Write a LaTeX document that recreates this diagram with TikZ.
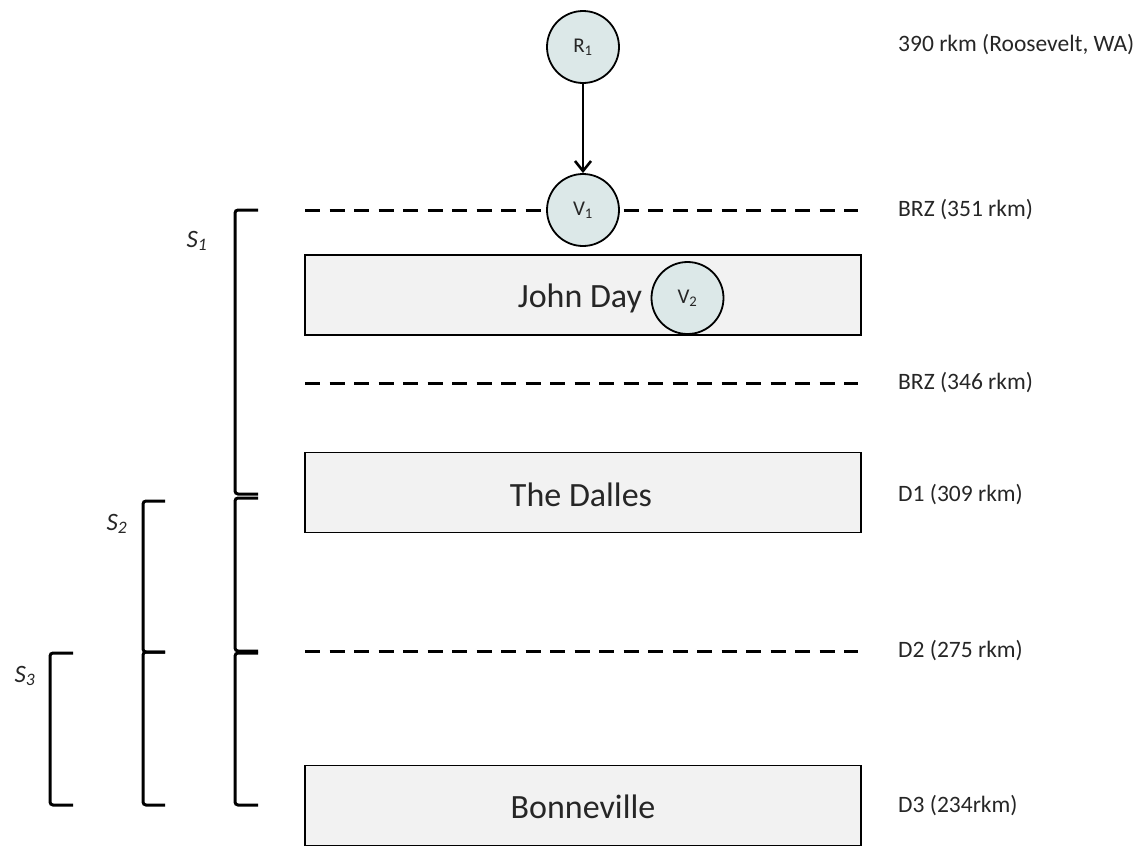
\documentclass[tikz,border=0pt]{standalone}
\usepackage{fontspec}
\setmainfont{Carlito}
\usetikzlibrary{arrows.meta}
\definecolor{circfill}{HTML}{DCE8E8}
\definecolor{boxfill}{HTML}{F2F2F2}
\definecolor{txt}{HTML}{262626}
\tikzset{
  station/.style={circle,draw=black,line width=1.8pt,fill=circfill,minimum size=72pt,inner sep=0pt,font=\fontsize{21}{21}\selectfont,text=txt},
  dam/.style={draw=black,line width=1.8pt,fill=boxfill,minimum width=556pt,minimum height=80pt,inner sep=0pt},
  damtext/.style={font=\fontsize{34}{34}\selectfont,text=txt},
  rlabel/.style={anchor=west,font=\fontsize{23.5}{23.5}\selectfont,text=txt,inner sep=0pt},
  dline/.style={line width=3pt,dash pattern=on 15pt off 9.5pt},
  brk/.style={line width=3pt,rounded corners=3pt},
  slabel/.style={font=\fontsize{25}{25}\selectfont\itshape,text=txt,inner sep=0pt}
}
\begin{document}
\begin{tikzpicture}[x=1pt,y=-1pt]
\useasboundingbox (0,0) rectangle (1140,846);
% dams
\node[dam] (jd) at (583,295) {};
\node[dam] (td) at (583,492.5) {};
\node[dam] (bv) at (583,805.5) {};
\node[damtext] (jdt) at (580,298) {John Day};
\node[damtext] (tdt) at (581,495) {The Dalles};
\node[damtext] (bvt) at (583,807) {Bonneville};
% dashed lines
\coordinate (l1a) at (305,210); \coordinate (l1b) at (858,210);
\coordinate (l2a) at (305,383); \coordinate (l2b) at (858,383);
\coordinate (l3a) at (305,651); \coordinate (l3b) at (858,651);
\draw[dline] (l1a) -- (l1b);
\draw[dline] (l2a) -- (l2b);
\draw[dline] (l3a) -- (l3b);
% stations
\node[station] (r1) at (583,47) {R\textsubscript{1}};
\node[station] (v1) at (583,210) {V\textsubscript{1}};
\node[station] (v2) at (687.5,298) {V\textsubscript{2}};
\draw[line width=2.6pt,-{Straight Barb[length=10pt,width=16pt,line width=2.6pt]}] (r1) -- (v1);
% right labels
\node[rlabel] (lr) at (898,45) {390 rkm (Roosevelt, WA)};
\node[rlabel] (lb1) at (898,210) {BRZ (351 rkm)};
\node[rlabel] (lb2) at (898,383) {BRZ (346 rkm)};
\node[rlabel] (ld1) at (898,495) {D1 (309 rkm)};
\node[rlabel] (ld2) at (898,651) {D2 (275 rkm)};
\node[rlabel] (ld3) at (898,806) {D3 (234rkm)};
% brackets
\draw[brk] (258,210) -- (235,210) -- (235,494) -- (258,494);
\draw[brk] (258,498) -- (235,498) -- (235,651) -- (258,651);
\draw[brk] (258,653) -- (235,653) -- (235,805) -- (258,805);
\draw[brk] (165,501) -- (143,501) -- (143,652) -- (165,652);
\draw[brk] (165,652) -- (143,652) -- (143,805) -- (165,805);
\draw[brk] (73,653) -- (50,653) -- (50,805) -- (73,805);
\node[slabel] (s1) at (197,241) {S\textsubscript{1}};
\node[slabel] (s2) at (117,524) {S\textsubscript{2}};
\node[slabel] (s3) at (25,676) {S\textsubscript{3}};
\end{tikzpicture}
\end{document}
